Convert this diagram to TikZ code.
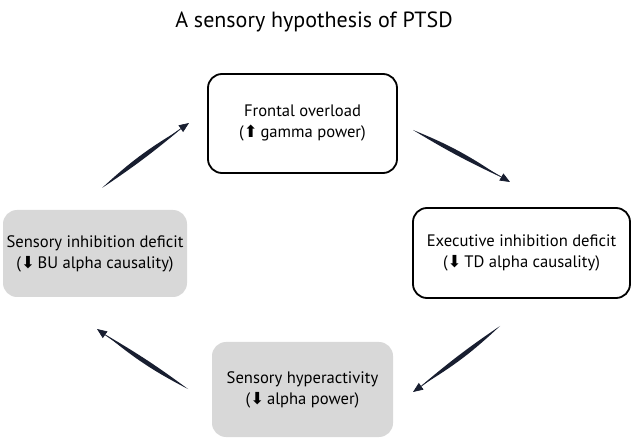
\documentclass[tikz,border=0pt]{standalone}
\usepackage{fontspec}
\setmainfont{PT Sans}
\newfontfamily\symfont{DejaVu Sans}
\definecolor{boxgray}{RGB}{216,216,216}
\definecolor{inkblue}{RGB}{24,30,48}
\newcommand{\up}{{\symfont\char"2B06}}
\newcommand{\down}{{\symfont\char"2B07}}
\newcommand{\swoosh}[3][6]{%
  \fill[inkblue] (#2) to[bend left=#1] ($(#2)!0.9!(#3)$) to[bend left=3] (#2);
  \draw[inkblue, line width=0.7pt, -{Triangle[length=10pt,width=8pt]}] ($(#2)!0.6!(#3)$) to[bend left=2] (#3);}
\usetikzlibrary{arrows.meta,calc}
\begin{document}
\begin{tikzpicture}[x=1pt, y=-1pt, line join=round, line cap=round,
  font=\fontsize{16.6}{21}\selectfont,
  whitebox/.style={draw, line width=1.8pt, rounded corners=14pt, fill=white, align=center, inner sep=0pt},
  graybox/.style={fill=boxgray, rounded corners=14pt, align=center, inner sep=0pt}]
\useasboundingbox (0,0) rectangle (633,441);
\node (title) at (314,22) {\fontsize{22}{26}\selectfont A sensory hypothesis of PTSD};
\node[whitebox, minimum width=189pt, minimum height=99pt] (frontal) at (302.5,123.5) {Frontal overload\\(\up\,gamma power)};
\node[whitebox, minimum width=217pt, minimum height=90pt] (exec) at (521.5,253) {Executive inhibition deficit\\(\down\,TD alpha causality)};
\node[graybox, minimum width=184pt, minimum height=87pt] (sensinh) at (95,253.5) {Sensory inhibition deficit\\(\down\,BU alpha causality)};
\node[graybox, minimum width=181pt, minimum height=95pt] (hyper) at (302.5,389.5) {Sensory hyperactivity\\(\down\,alpha power)};
% arrow ends
\coordinate (a1) at (102,188); \coordinate (b1) at (189,123);
\coordinate (a2) at (413,130); \coordinate (b2) at (510,182);
\coordinate (a3) at (500,326); \coordinate (b3) at (413,392);
\coordinate (a4) at (188,389); \coordinate (b4) at (97,329);
\swoosh{a1}{b1}
\swoosh{a2}{b2}
\swoosh{a3}{b3}
\swoosh{a4}{b4}
\end{tikzpicture}
\end{document}
